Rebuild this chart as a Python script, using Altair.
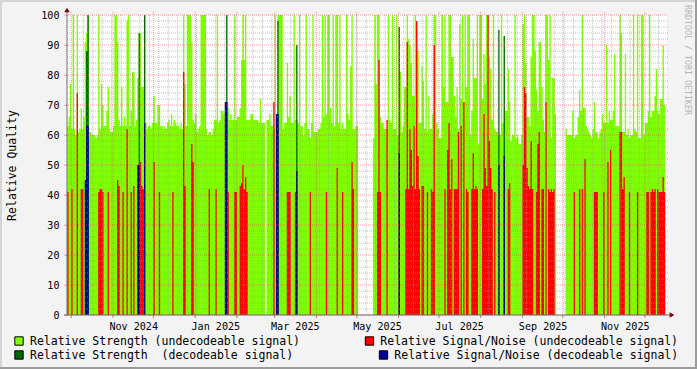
import altair as alt
import pandas as pd

# ---------------- data (one value per day, starting 2024-09-28) ----------------
START = "2024-09-28"

strength_undecodeable = [
    63, 66, 77, 62, 100, 62, 60, 100, 61, 62,
    69, 62, 66, 91, 94, 100, 61, 61, 60, 60,
    60, 59, 60, 100, 62, 77, 70, 63, 63, 68,
    76, 62, 61, 61, 63, 100, 100, 91, 65, 63,
    76, 63, 66, 63, 98, 100, 63, 68, 81, 81,
    63, 65, 79, 94, 94, 76, 76, 100, 64, 62,
    63, 63, 62, 64, 73, 64, 64, 70, 70, 63,
    63, 62, 63, 62, 64, 65, 63, 67, 63, 65,
    64, 63, 63, 62, 64, 62, 100, 77, 63, 100,
    100, 100, 91, 65, 64, 67, 61, 62, 63, 100,
    100, 100, 100, 62, 60, 61, 61, 60, 62, 65,
    65, 100, 64, 65, 68, 68, 67, 70, 69, 69,
    65, 67, 65, 65, 100, 65, 66, 66, 69, 85,
    100, 85, 100, 65, 65, 65, 67, 67, 65, 65,
    65, 65, 64, 72, 64, 64, 64, None, 65, 65,
    67, 63, 63, 62, 100, 66, 100, 100, 100, 100,
    62, 64, 64, 84, 66, 73, 64, 64, 100, 65,
    65, 64, 100, 63, 63, 60, 64, 100, 62, 62,
    59, 64, 100, 61, 61, 61, 62, 62, 64, 100,
    66, 100, 67, 100, 100, 69, 64, 100, 63, 100,
    100, 64, 100, 62, 64, 62, 62, 100, 67, 65,
    83, 100, 62, 62, 63, 63, None, None, None, None,
    None, None, None, None, None, None, None, 59, 100, 77,
    100, 100, 66, 64, 64, 62, 62, 62, 100, 65,
    64, 100, 62, 62, 100, 60, 60, 81, 61, 63,
    76, 76, 100, 92, 90, 84, 73, 73, 100, 95,
    88, 64, 64, 83, 78, 62, 100, 61, 73, 62,
    62, 67, 100, 100, 64, 62, 59, 59, 100, 76,
    100, 71, 71, 100, 100, 86, 86, 73, 66, 76,
    62, 97, 72, 100, 71, 100, 76, 100, 100, 60,
    68, 92, 79, 79, 100, 57, 100, 100, 72, 87,
    77, 100, 100, 86, 82, 65, 100, 62, 61, 61,
    60, 60, 100, 64, 64, 68, 68, 82, 71, 58,
    60, 60, 100, 59, 60, 57, 57, 60, 97, 100,
    84, 66, 66, 63, 86, 100, 100, 88, 75, 68,
    91, 91, 76, 65, 61, 100, 100, 85, 100, 59,
    79, 79, 67, None, None, None, None, None, None, None,
    62, 60, 60, 60, 60, 68, 59, 60, 60, 66,
    75, 68, 100, 69, 69, 63, 62, 61, 60, 59,
    62, 71, 61, 61, 59, 61, 62, 67, 64, 64,
    90, 64, 68, 65, 65, 68, 87, 63, 63, 63,
    100, 94, 61, 61, 87, 60, 62, 59, 60, 60,
    100, 62, 61, 100, 59, 59, 100, 100, 60, 64,
    64, 68, 100, 66, 68, 68, 73, 82, 68, 67,
    72, 72, 90, 70,
]

strength_dec_days = [14, 15, 53, 57, 118, 156, 170, 246, 320, 324]
strength_dec_vals = [88, 100, 94, 100, 100, 98, 90, 96, 95, 93]

sn_undec_days = [
    0, 3, 7, 10, 11, 23, 24, 25, 26, 30, 37, 38, 41, 44, 47, 49, 54, 55, 56, 64,
    68, 78, 86, 87, 92, 93, 105, 110, 119, 124, 125, 128, 129, 130, 131, 132, 133,
    153, 163, 164, 165, 169, 180, 192, 200, 204, 211, 212,
    230, 231, 232, 237, 251, 252, 253, 254, 255, 256, 257, 258, 259, 260, 261, 263,
    264, 267, 270, 271, 272, 280, 282, 283, 284, 285, 287, 288, 289, 290, 292, 294,
    296, 297, 300, 301, 302, 303, 304, 308, 309, 310, 311, 312, 313, 314, 315, 317,
    327, 328, 338, 339, 340, 341, 342, 343, 344, 345, 348, 349, 350, 352, 353, 355,
    357, 358, 359, 360, 361, 376, 380, 382, 384, 391, 392, 393, 398, 401, 403, 410,
    411, 412, 413, 417, 423, 430, 431, 433, 434, 435, 436, 438, 439, 440, 441, 442, 443,
]
sn_undec_vals = [
    41, 42, 74, 42, 42, 41, 42, 42, 41, 41, 45, 43, 41, 62, 41, 43, 51, 43, 42, 51,
    41, 41, 81, 43, 57, 51, 42, 42, 41, 41, 41, 43, 44, 50, 42, 46, 41,
    71, 41, 41, 41, 41, 41, 41, 49, 41, 51, 42,
    41, 85, 41, 65, 42, 91, 42, 62, 55, 43, 63, 42, 98, 53, 42, 43,
    43, 41, 42, 41, 90, 42, 55, 64, 42, 52, 42, 42, 42, 61, 63, 71,
    42, 41, 42, 54, 42, 43, 42, 42, 67, 49, 43, 100, 58, 49, 42, 41,
    42, 44, 50, 76, 74, 49, 43, 42, 58, 42, 41, 57, 61, 42, 42, 71,
    42, 41, 42, 41, 42, 41, 42, 42, 52, 41, 41, 41, 41, 51, 55, 61,
    61, 42, 46, 41, 41, 41, 41, 41, 42, 41, 42, 42, 41, 41, 41, 46, 41,
]

sn_dec_days = [13, 14, 15, 52, 53, 57, 117, 118, 155, 156, 170, 246, 320, 324]
sn_dec_vals = [45, 63, 63, 50, 50, 64, 71, 71, 67, 67, 48, 54, 50, 53]

x_label_dates = ["2024-11-16", "2025-01-16", "2025-03-16", "2025-05-16",
                 "2025-07-16", "2025-09-16", "2025-11-16"]
y_tick_values = [0, 10, 20, 30, 40, 50, 60, 70, 80, 90, 100]

legend_left = ["Relative Strength (undecodeable signal)",
               "Relative Strength\u00a0 (decodeable signal)"]
legend_right = ["Relative Signal/Noise (undecodeable signal)",
                "Relative Signal/Noise (decodeable signal)"]
watermark = "RRDTOOL / TOBI OETIKER"

# ---------------- styling ----------------
FONT = "DejaVu Sans Mono"
LIME = "#80ff00"
DKGREEN = "#006600"
RED = "#ff0000"
BLUE = "#000099"
AXIS = "#707070"
ARROW = "#7f0000"
W, H = 600, 300


def fmt(ts):
    return ts.strftime("%Y-%m-%dT%H:%M:%S")


def step_df(days, vals):
    """Points for a step-after area: one point per day, plus a closing point
    at the end of every run of consecutive days; runs become separate paths."""
    pairs = [(d, v) for d, v in zip(days, vals) if v is not None]
    rows = []
    seg = 0
    prev = None
    for d, v in pairs:
        if prev is not None and d != prev[0] + 1:
            rows.append((seg, prev[0] + 1, prev[1]))
            seg += 1
        rows.append((seg, d, v))
        prev = (d, v)
    if prev is not None:
        rows.append((seg, prev[0] + 1, prev[1]))
    base = pd.Timestamp(START)
    return pd.DataFrame({
        "seg": [r[0] for r in rows],
        "t": [fmt(base + pd.Timedelta(days=r[1])) for r in rows],
        "v": [r[2] for r in rows],
    })


lime_df = step_df(range(len(strength_undecodeable)), strength_undecodeable)
dg_df = step_df(strength_dec_days, strength_dec_vals)
red_df = step_df(sn_undec_days, sn_undec_vals)
blue_df = step_df(sn_dec_days, sn_dec_vals)

x_scale = alt.Scale(domain=[alt.DateTime(year=2024, month=9, date=27, hours=20, minutes=17),
                            alt.DateTime(year=2025, month=12, date=17, hours=8, minutes=2)],
                    nice=False)
y_scale = alt.Scale(domain=[0, 100], nice=False)

x_vals = []
for s in x_label_dates:
    t = pd.Timestamp(s)
    x_vals.append(alt.DateTime(year=t.year, month=t.month, date=t.day))

x_axis = alt.Axis(values=x_vals, format="%b %Y", labelFont=FONT, labelFontSize=10.1,
                  labelColor="#000000", ticks=False, domain=False, grid=False,
                  labelPadding=6, title=None, labelOverlap=False, labelFlush=False)
y_axis = alt.Axis(values=y_tick_values, labelFont=FONT, labelFontSize=10.1,
                  labelColor="#000000", tickSize=2, tickColor="#d09090",
                  domain=False, grid=False, labelPadding=6,
                  title="Relative Quality", titleFont=FONT, titleFontSize=11.5,
                  titleFontWeight="normal", titleColor="#000000", titleX=-52, titleY=150,
                  titleAngle=270, titleAlign="center", titleBaseline="alphabetic")


def steps(df, color):
    return alt.Chart(df).mark_area(color=color, interpolate="step-after", opacity=1).encode(
        x=alt.X("t:T", scale=x_scale, axis=x_axis),
        y=alt.Y("v:Q", scale=y_scale, axis=y_axis),
        y2=alt.datum(0),
        detail="seg:N",
    )


lime_layer = steps(lime_df, LIME)
dg_layer = steps(dg_df, DKGREEN)
red_layer = steps(red_df, RED)
blue_layer = steps(blue_df, BLUE)

# grid lines
month_lines = pd.DataFrame({"t": pd.date_range("2024-10-01", "2025-12-01", freq="MS")
                            .strftime("%Y-%m-%dT%H:%M:%S")})
week_lines = pd.DataFrame({"t": pd.date_range("2024-10-03", "2025-12-11", freq="7D")
                           .strftime("%Y-%m-%dT%H:%M:%S")})
h_minor = pd.DataFrame({"v": [v for v in range(2, 100, 2) if v % 10]})
h_major = pd.DataFrame({"v": y_tick_values})

week_grid = alt.Chart(week_lines).mark_rule(color="#9a9a9a", opacity=0.6, strokeDash=[1, 1],
                                            strokeWidth=1).encode(
    x=alt.X("t:T", scale=x_scale, axis=x_axis), y=alt.value(0), y2=alt.value(H))
hmin_grid = alt.Chart(h_minor).mark_rule(color="#9a9a9a", opacity=0.6, strokeDash=[1, 1],
                                         strokeWidth=1).encode(
    y=alt.Y("v:Q", scale=y_scale, axis=y_axis), x=alt.value(0), x2=alt.value(W + 1))
month_grid = alt.Chart(month_lines).mark_rule(color="#e05050", opacity=0.55, strokeDash=[1, 1],
                                              strokeWidth=1).encode(
    x=alt.X("t:T", scale=x_scale, axis=x_axis), y=alt.value(-3), y2=alt.value(H))
hmaj_grid = alt.Chart(h_major).mark_rule(color="#e05050", opacity=0.55, strokeDash=[1, 1],
                                         strokeWidth=1).encode(
    y=alt.Y("v:Q", scale=y_scale, axis=y_axis), x=alt.value(-3), x2=alt.value(W + 1))
month_ticks = alt.Chart(month_lines).mark_rule(color="#b08080", strokeWidth=1).encode(
    x=alt.X("t:T", scale=x_scale, axis=x_axis), y=alt.value(H), y2=alt.value(H + 3))

one = pd.DataFrame({"k": [0]})
y_axis_line = alt.Chart(one).mark_rule(color=AXIS, strokeWidth=1).encode(
    x=alt.value(0), y=alt.value(-3), y2=alt.value(H))
x_axis_line = alt.Chart(one).mark_rule(color=AXIS, strokeWidth=1).encode(
    x=alt.value(-3), x2=alt.value(W + 3), y=alt.value(H))
y_arrow = alt.Chart(one).mark_point(shape="triangle-up", filled=True, color=ARROW,
                                    size=30, opacity=1).encode(
    x=alt.value(0), y=alt.value(-5))
x_arrow = alt.Chart(one).mark_point(shape="triangle-right", filled=True, color=ARROW,
                                    size=30, opacity=1).encode(
    x=alt.value(W + 5), y=alt.value(H))


def legend_item(sx, sy, color, tx, text):
    sq = alt.Chart(one).mark_square(size=70, color=color, opacity=1, stroke="#000000",
                                    strokeWidth=1).encode(x=alt.value(sx), y=alt.value(sy))
    tx_ = alt.Chart(one).mark_text(font=FONT, fontSize=11.5, align="left",
                                   baseline="alphabetic", color="#000000").encode(
        x=alt.value(tx), y=alt.value(sy + 4.3), text=alt.value(text))
    return [sq, tx_]


legend_layers = []
legend_layers += legend_item(-48, 326, LIME, -37, legend_left[0])
legend_layers += legend_item(-48, 340, DKGREEN, -37, legend_left[1])
legend_layers += legend_item(302.5, 326, RED, 313.3, legend_right[0])
legend_layers += legend_item(316.5, 340, BLUE, 327.3, legend_right[1])

wm = alt.Chart(one).mark_text(font=FONT, fontSize=8.3, angle=90, align="left",
                              baseline="middle", color="#b5b5b5").encode(
    x=alt.value(620), y=alt.value(-10), text=alt.value(watermark))

frame_light_top = alt.Chart(one).mark_rule(color="#d4d4d4", strokeWidth=2).encode(
    x=alt.value(-67), x2=alt.value(630), y=alt.value(-14))
frame_light_left = alt.Chart(one).mark_rule(color="#d4d4d4", strokeWidth=2).encode(
    x=alt.value(-66), y=alt.value(-15), y2=alt.value(354))
frame_dark_right = alt.Chart(one).mark_rule(color="#9c9c9c", strokeWidth=2).encode(
    x=alt.value(629), y=alt.value(-15), y2=alt.value(354))
frame_dark_bottom = alt.Chart(one).mark_rule(color="#9c9c9c", strokeWidth=2).encode(
    x=alt.value(-67), x2=alt.value(630), y=alt.value(353))

layers = [lime_layer, dg_layer, red_layer, blue_layer,
          week_grid, hmin_grid, month_grid, hmaj_grid, month_ticks,
          y_axis_line, x_axis_line, y_arrow, x_arrow, wm,
          frame_light_top, frame_light_left, frame_dark_right, frame_dark_bottom] + legend_layers

chart = alt.layer(*layers).properties(
    width=W, height=H,
    padding={"left": 67, "top": 15, "right": 30, "bottom": 54},
    autosize=alt.AutoSizeParams(type="none"),
    background="#f3f3f3",
).configure_view(stroke=None, fill="#ffffff")

chart.save("out.html", embed_options={"renderer": "svg", "actions": False})
